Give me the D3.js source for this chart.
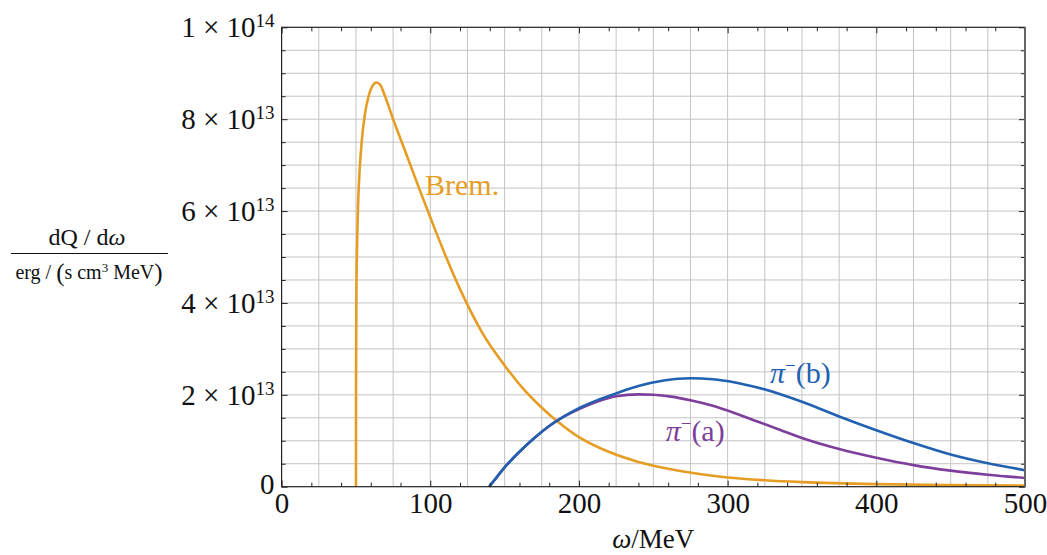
<!DOCTYPE html>
<html>
<head>
<meta charset="utf-8">
<script src="https://cdn.jsdelivr.net/npm/d3@7"></script>
<style>
  body { margin: 0; background: #fff; }
  text { font-family: "Liberation Serif", "Times New Roman", serif; }
</style>
</head>
<body>
<div id="chart"></div>
<script>
// values, dQ/dw in units of 1e13 erg/(s cm^3 MeV)
var bremOmega = [50, 50.1, 50.3, 50.8, 51.5, 52.5, 54, 56, 58.5, 61, 63.9, 66.5, 69, 72, 75, 80, 86.3, 93, 99.8, 110, 120, 135, 150, 162, 175, 186, 200, 220, 240, 260, 280, 300, 325, 350, 400, 450, 500];
var bremValue = [0, 2.5, 4.2, 5.3, 6.2, 6.9, 7.55, 8.1, 8.5, 8.72, 8.80, 8.74, 8.55, 8.28, 8.0, 7.57, 7.03, 6.45, 5.88, 5.05, 4.3, 3.35, 2.64, 2.15, 1.72, 1.41, 1.08, 0.76, 0.54, 0.39, 0.28, 0.2, 0.14, 0.1, 0.055, 0.035, 0.025];

var pionBOmega = [139.6, 145, 150, 160, 170, 180, 190, 200, 212, 225, 240, 257, 275, 290, 305, 320, 335, 350, 375, 400, 425, 450, 475, 500];
var pionBValue = [0, 0.22, 0.42, 0.76, 1.06, 1.32, 1.53, 1.71, 1.88, 2.03, 2.19, 2.31, 2.36, 2.34, 2.27, 2.16, 2.02, 1.85, 1.53, 1.23, 0.95, 0.7, 0.51, 0.36];

var pionAOmega = [139.6, 145, 150, 160, 170, 180, 190, 200, 212, 225, 240, 250, 262, 275, 290, 305, 320, 335, 350, 375, 400, 425, 450, 475, 500];
var pionAValue = [0, 0.22, 0.42, 0.76, 1.06, 1.32, 1.53, 1.69, 1.85, 1.97, 2.01, 2.0, 1.96, 1.88, 1.76, 1.6, 1.42, 1.24, 1.06, 0.82, 0.63, 0.47, 0.35, 0.26, 0.19];

var xTickValues = [0, 100, 200, 300, 400, 500];
var yTickValues = [0, 2, 4, 6, 8, 10];
var yTickMantissa = ["0", "2", "4", "6", "8", "1"];
var yTickExponent = ["", "13", "13", "13", "13", "14"];

var W = 1047, H = 555;
var margin = { top: 27.3, right: 22, bottom: 68.3, left: 281.6 };
var width = W - margin.left - margin.right;
var height = H - margin.top - margin.bottom;

var orange = "#e59d23", blue = "#2261b1", purple = "#7d3f9b";

var svg = d3.select("#chart").append("svg")
    .attr("width", W)
    .attr("height", H);

var g = svg.append("g")
    .attr("transform", "translate(" + margin.left + "," + margin.top + ")");

var x = d3.scaleLinear().domain([0, 500]).range([0, width]);
var y = d3.scaleLinear().domain([0, 10]).range([height, 0]);

// grid
g.append("g").selectAll("line")
    .data(d3.range(25, 500, 25))
    .enter().append("line")
    .attr("x1", function(d) { return x(d); })
    .attr("x2", function(d) { return x(d); })
    .attr("y1", 0).attr("y2", height)
    .attr("stroke", "#c4c4c4").attr("stroke-width", 1);
g.append("g").selectAll("line")
    .data(d3.range(0.5, 10, 0.5))
    .enter().append("line")
    .attr("y1", function(d) { return y(d); })
    .attr("y2", function(d) { return y(d); })
    .attr("x1", 0).attr("x2", width)
    .attr("stroke", "#c4c4c4").attr("stroke-width", 1);

// curves
var line = d3.line()
    .curve(d3.curveMonotoneX)
    .x(function(d) { return x(d[0]); })
    .y(function(d) { return y(d[1]); });

var series = [
    { color: orange, pts: d3.zip(bremOmega, bremValue) },
    { color: purple, pts: d3.zip(pionAOmega, pionAValue) },
    { color: blue, pts: d3.zip(pionBOmega, pionBValue) }
];

g.selectAll(".curve")
    .data(series)
    .enter().append("path")
    .attr("class", "curve")
    .attr("d", function(d) { return line(d.pts); })
    .attr("fill", "none")
    .attr("stroke", function(d) { return d.color; })
    .attr("stroke-width", 2.6);

// ticks, pointing inward
var minorX = d3.range(0, 501, 20).filter(function(d) { return d % 100 !== 0; });
var minorY = d3.range(0, 10.01, 0.5).filter(function(d) { return Math.abs(d / 2 - Math.round(d / 2)) > 1e-6; });

function tickAxis(gen, vals, size, tr) {
    var a = g.append("g").attr("transform", tr)
        .call(gen.tickValues(vals).tickSize(size).tickFormat(""));
    a.select(".domain").remove();
    a.selectAll("line").attr("stroke", "#222").attr("stroke-width", 1);
}
tickAxis(d3.axisTop(x), xTickValues, 6, "translate(0," + height + ")");
tickAxis(d3.axisTop(x), minorX, 4, "translate(0," + height + ")");
tickAxis(d3.axisBottom(x), xTickValues, 6, "translate(0,0)");
tickAxis(d3.axisBottom(x), minorX, 4, "translate(0,0)");
tickAxis(d3.axisRight(y), yTickValues, 6, "translate(0,0)");
tickAxis(d3.axisRight(y), minorY, 4, "translate(0,0)");
tickAxis(d3.axisLeft(y), yTickValues, 6, "translate(" + width + ",0)");
tickAxis(d3.axisLeft(y), minorY, 4, "translate(" + width + ",0)");

// frame
g.append("rect")
    .attr("width", width).attr("height", height)
    .attr("fill", "none").attr("stroke", "#222").attr("stroke-width", 1.2);
g.append("line")
    .attr("x1", width).attr("x2", width).attr("y1", 0).attr("y2", height)
    .attr("stroke", "#666").attr("stroke-width", 2);

// x tick labels
var xa = g.append("g").attr("transform", "translate(0," + height + ")")
    .call(d3.axisBottom(x).tickValues(xTickValues).tickSize(0).tickPadding(5.5).tickFormat(d3.format("d")));
xa.select(".domain").remove();
xa.selectAll("text")
    .style("font-family", '"Liberation Serif", serif')
    .style("font-size", "29px")
    .attr("fill", "#111");

// y tick labels
var yl = g.append("g").selectAll("text")
    .data(yTickValues)
    .enter().append("text")
    .attr("x", -7)
    .attr("y", function(d, i) { return y(d) + (yTickExponent[i] ? 10 : 7.5); })
    .attr("text-anchor", "end")
    .attr("fill", "#111")
    .style("font-size", "29px");
yl.append("tspan").text(function(d, i) { return yTickExponent[i] ? yTickMantissa[i] + " \u00d7 10" : yTickMantissa[i]; });
yl.append("tspan")
    .attr("dy", -10)
    .style("font-size", "19px")
    .text(function(d, i) { return yTickExponent[i]; });

// curve labels
function label(txt, wx, wy, color, sup) {
    var t = g.append("text")
        .attr("x", x(wx)).attr("y", y(wy))
        .attr("fill", color)
        .style("font-size", "30px");
    if (sup) {
        t.append("tspan").style("font-style", "italic").text("\u03c0");
        t.append("tspan").attr("dy", -11).style("font-size", "19px").text("\u2212");
        t.append("tspan").attr("dy", 11).text(txt);
    } else {
        t.text(txt);
    }
}
label("Brem.", (425 - margin.left) / width * 500, 6.36, orange, false);
label("(b)", 328.5, 2.26, blue, true);
label("(a)", 258.3, 1.0, purple, true);

// axis titles
var xt = svg.append("text")
    .attr("x", margin.left + width / 2)
    .attr("y", 548)
    .attr("text-anchor", "middle")
    .attr("fill", "#111")
    .style("font-size", "27px");
xt.append("tspan").style("font-style", "italic").text("\u03c9");
xt.append("tspan").text("/MeV");

var num = svg.append("text")
    .attr("x", 87).attr("y", 245)
    .attr("text-anchor", "middle")
    .attr("fill", "#111")
    .style("font-size", "24px");
num.append("tspan").text("dQ / d");
num.append("tspan").style("font-style", "italic").text("\u03c9");

svg.append("line")
    .attr("x1", 11).attr("x2", 168).attr("y1", 253.5).attr("y2", 253.5)
    .attr("stroke", "#111").attr("stroke-width", 1.2);

var den = svg.append("text")
    .attr("x", 89).attr("y", 279)
    .attr("text-anchor", "middle")
    .attr("fill", "#111")
    .style("font-size", "20px");
den.append("tspan").text("erg / ");
den.append("tspan").style("font-size", "25px").attr("dy", 2).text("(");
den.append("tspan").attr("dy", -2).text("s cm");
den.append("tspan").attr("dy", -7).style("font-size", "13px").text("3");
den.append("tspan").attr("dy", 7).text(" MeV");
den.append("tspan").style("font-size", "25px").attr("dy", 2).text(")");
</script>
</body>
</html>
